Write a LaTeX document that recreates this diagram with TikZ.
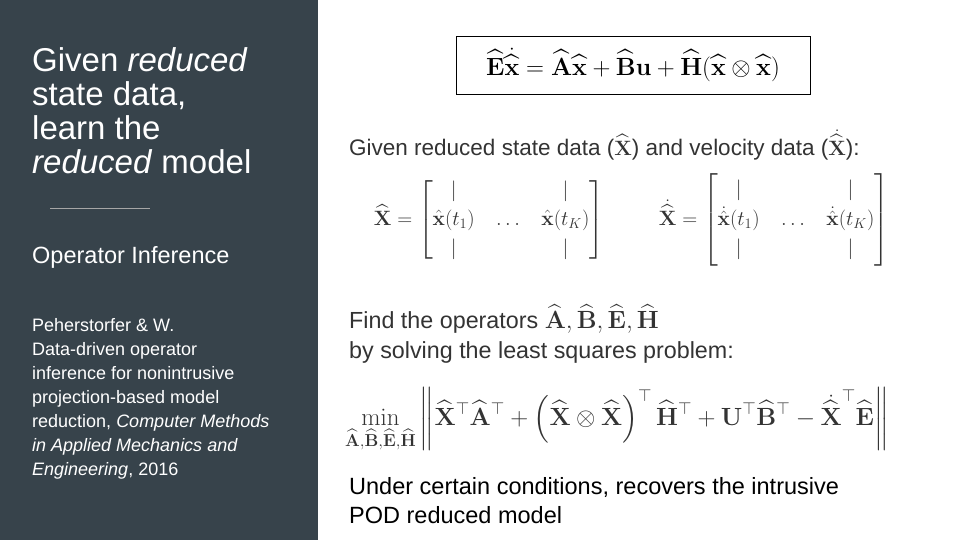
\documentclass[tikz,border=0pt]{standalone}
\usepackage{amsmath,amssymb,bm}
\usepackage[no-math]{fontspec}
\setmainfont{Liberation Sans}
\definecolor{panel}{HTML}{37434B}
\definecolor{txtgray}{HTML}{333333}
\tikzset{lt/.style={anchor=west,inner sep=0,text=white,align=left},
rt/.style={anchor=west,inner sep=0,text=txtgray,align=left}}
\begin{document}
\begin{tikzpicture}[x=1pt,y=-1pt]
\useasboundingbox (0,0) rectangle (960,540);
\fill[panel] (0,0) rectangle (318,540);
\node[lt,font=\fontsize{33}{34}\selectfont,anchor=north west] (title) at (32,47) {Given \textit{reduced}\\state data,\\learn the\\\textit{reduced} model};
\draw[gray!70,line width=0.6pt] (50,208) -- (150,208);
\node[lt,font=\fontsize{23.5}{26}\selectfont] (oi) at (32,257) {Operator Inference};
\node[lt,font=\fontsize{18}{24}\selectfont,anchor=north west] (cite) at (32,318) {Peherstorfer \& W.\\Data-driven operator\\inference for nonintrusive\\projection-based model\\reduction, \textit{Computer Methods}\\\textit{in Applied Mechanics and}\\\textit{Engineering}, 2016};
\node[draw,line width=0.8pt,minimum width=354,minimum height=58,inner sep=0,font=\fontsize{29}{32}\selectfont] (eq) at (633,65)
{$\widehat{\mathbf E}\dot{\widehat{\mathbf x}}=\widehat{\mathbf A}\widehat{\mathbf x}+\widehat{\mathbf B}\mathbf u+\widehat{\mathbf H}(\widehat{\mathbf x}\otimes\widehat{\mathbf x})$};
\node[rt,font=\fontsize{22.5}{24}\selectfont] (given) at (349,145) {Given reduced state data ($\widehat{\mathbf X}$) and velocity data ($\dot{\widehat{\mathbf X}}$):};
\node[rt,font=\fontsize{22}{26}\selectfont,anchor=center] (mx) at (489,220) {$\widehat{\mathbf X}=\begin{bmatrix} | & & | \\[3pt] \hat{\mathbf x}(t_1) &\;\; \dots\;\; & \hat{\mathbf x}(t_K)\\[3pt] | && |\end{bmatrix}$};
\node[rt,font=\fontsize{22}{26}\selectfont,anchor=center] (mxd) at (774,220) {$\dot{\widehat{\mathbf X}}=\begin{bmatrix} | & & | \\[3pt] \dot{\hat{\mathbf x}}(t_1) &\;\; \dots\;\; & \dot{\hat{\mathbf x}}(t_K)\\[3pt] | && |\end{bmatrix}$};
\node[rt,font=\fontsize{23.3}{30}\selectfont,anchor=north west] (find) at (349,304) {Find the operators $\widehat{\mathbf A},\widehat{\mathbf B},\widehat{\mathbf E},\widehat{\mathbf H}$\\by solving the least squares problem:};
\node[rt,font=\fontsize{26.5}{28}\selectfont] (min) at (345,420) {$\displaystyle\min_{\widehat{\mathbf A},\widehat{\mathbf B},\widehat{\mathbf E},\widehat{\mathbf H}}\left\|\widehat{\mathbf X}^{\top}\widehat{\mathbf A}^{\top}+\left(\widehat{\mathbf X}\otimes\widehat{\mathbf X}\right)^{\top}\widehat{\mathbf H}^{\top}+\mathbf U^{\top}\widehat{\mathbf B}^{\top}-\dot{\widehat{\mathbf X}}^{\top}\widehat{\mathbf E}\right\|$};
\node[rt,text=black,font=\fontsize{23.5}{29}\selectfont,anchor=north west] (under) at (349,477) {Under certain conditions, recovers the intrusive\\POD reduced model};
\end{tikzpicture}
\end{document}
